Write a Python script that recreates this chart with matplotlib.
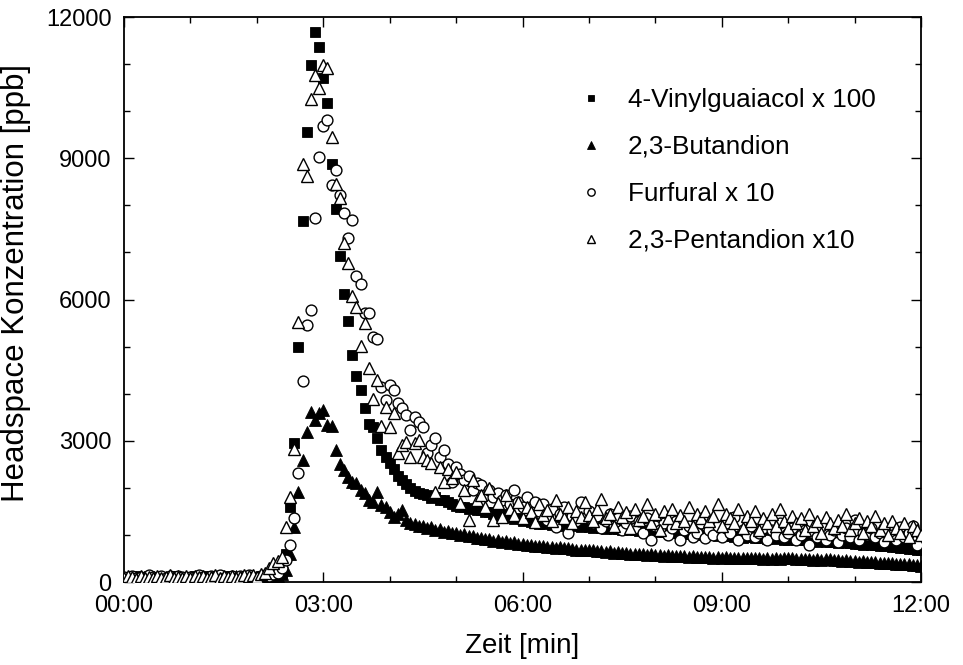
import numpy as np
import matplotlib
matplotlib.use("Agg")
import matplotlib.pyplot as plt
from matplotlib.ticker import MultipleLocator, FixedLocator, FixedFormatter

plt.rcParams['font.family'] = ['Liberation Sans', 'DejaVu Sans']

# sampling interval (minutes)
dt_min = 0.0625

series_labels = ['4-Vinylguaiacol x 100', '2,3-Butandion', 'Furfural x 10', '2,3-Pentandion x10']

vinyl = [
    90, 110, 80, 120, 100, 70, 130, 95, 85, 115,
    100, 75, 125, 90, 110, 80, 105, 130, 95, 85,
    120, 100, 70, 115, 90, 135, 105, 80, 110, 95,
    125, 100, 85, 130, 110, 140, 120, 150, 200, 600,
    1600, 2950, 5000, 7660, 9555, 10980, 11690, 11360, 10700, 10180,
    8870, 7920, 6930, 6110, 5550, 4820, 4375, 4078, 3690, 3350,
    3300, 3050, 2800, 2660, 2520, 2400, 2250, 2170, 2080, 2000,
    1930, 1880, 1870, 1840, 1790, 1800, 1740, 1750, 1690, 1660,
    1620, 1590, 1600, 1550, 1570, 1520, 1530, 1480, 1490, 1450,
    1430, 1440, 1380, 1390, 1340, 1350, 1300, 1310, 1270, 1260,
    1240, 1230, 1245, 1220, 1210, 1225, 1200, 1190, 1205, 1180,
    1170, 1185, 1160, 1150, 1170, 1140, 1135, 1150, 1120, 1130,
    1110, 1120, 1095, 1100, 1080, 1105, 1075, 1070, 1085, 1055,
    1060, 1070, 1045, 1040, 1055, 1025, 1030, 1010, 1035, 1005,
    1000, 1015, 990, 985, 1000, 970, 975, 960, 980, 945,
    950, 960, 940, 935, 950, 920, 925, 910, 930, 895,
    900, 910, 890, 885, 900, 870, 875, 860, 880, 845,
    850, 860, 835, 840, 820, 830, 805, 815, 790, 800,
    790, 780, 770, 760, 765, 740, 750, 725, 730, 710,
    700, 690, 680,
]

butandion = [
    70, 90, 60, 100, 80, 110, 75, 95, 65, 105,
    85, 60, 100, 120, 80, 95, 70, 110, 90, 75,
    100, 80, 115, 90, 70, 105, 95, 125, 85, 100,
    90, 110, 80, 100, 120, 95, 110, 120, 180, 255,
    600, 1175, 1918, 2590, 3190, 3617, 3440, 3600, 3650, 3335,
    3310, 2800, 2500, 2380, 2235, 2130, 2095, 1950, 1885, 1740,
    1700, 1918, 1635, 1600, 1480, 1390, 1450, 1530, 1320, 1250,
    1230, 1190, 1200, 1150, 1160, 1110, 1120, 1070, 1080, 1040,
    1050, 1000, 1010, 970, 980, 935, 945, 905, 915, 880,
    890, 850, 865, 830, 840, 800, 815, 785, 795, 770,
    760, 770, 745, 750, 730, 735, 715, 720, 700, 690,
    680, 690, 670, 675, 655, 660, 640, 650, 625, 630,
    610, 620, 600, 605, 590, 595, 575, 585, 565, 570,
    560, 570, 550, 555, 545, 550, 535, 545, 530, 535,
    530, 540, 520, 530, 515, 525, 510, 520, 505, 515,
    510, 515, 500, 510, 495, 505, 490, 505, 495, 500,
    500, 505, 485, 495, 480, 490, 475, 485, 470, 480,
    480, 470, 465, 455, 460, 445, 450, 435, 440, 425,
    420, 425, 410, 405, 400, 395, 390, 385, 380, 375,
    370, 360, 350,
]

furfural = [
    100, 70, 130, 90, 115, 80, 140, 100, 75, 125,
    95, 120, 85, 135, 100, 70, 115, 90, 140, 105,
    80, 125, 100, 145, 90, 110, 130, 85, 120, 100,
    140, 115, 90, 130, 150, 120, 160, 200, 300, 467,
    786, 1353, 2320, 4276, 5460, 5780, 7725, 9030, 9685, 9810,
    8430, 8750, 8220, 7845, 7300, 7690, 6500, 6330, 5720, 5707,
    5210, 5155, 4150, 3866, 4184, 4078, 3796, 3690, 3547, 3228,
    3511, 3405, 3300, 2733, 2910, 3052, 2660, 2800, 2500, 2130,
    2450, 2300, 2166, 2250, 1954, 2100, 2050, 1850, 1954, 1800,
    1900, 1750, 1850, 1650, 1954, 1700, 1600, 1800, 1550, 1700,
    1500, 1650, 1317, 1550, 1170, 1450, 1600, 1040, 1400, 1300,
    1700, 1350, 1500, 1250, 1400, 1150, 1300, 1450, 1200, 1350,
    1100, 1250, 1400, 1150, 1300, 1050, 1350, 890, 1200, 1100,
    1250, 1000, 1150, 1300, 890, 1100, 1200, 950, 1050, 1250,
    935, 1100, 1000, 1200, 950, 1150, 1050, 1380, 890, 1100,
    1000, 1200, 950, 1050, 1150, 900, 1100, 1000, 1250, 950,
    1050, 1150, 900, 1000, 1100, 785, 1050, 950, 1200, 900,
    1000, 1100, 850, 1000, 1150, 950, 1317, 900, 1050, 1000,
    1150, 950, 1050, 850, 1100, 1000, 900, 1170, 950, 1050,
    1200, 785, 1000,
]

pentandion = [
    80, 120, 100, 70, 130, 90, 110, 85, 125, 95,
    105, 140, 80, 115, 95, 130, 75, 120, 100, 135,
    90, 110, 140, 85, 125, 100, 130, 95, 115, 150,
    120, 140, 110, 160, 200, 290, 400, 450, 540, 1160,
    1810, 2820, 5530, 8880, 8620, 10250, 10770, 10490, 10980, 10910,
    9460, 8450, 8150, 7205, 6770, 6070, 5850, 5010, 5495, 4540,
    3880, 4290, 3310, 3725, 3300, 3583, 2733, 2910, 2980, 2660,
    2950, 3016, 2660, 2600, 2520, 1918, 2450, 2130, 2400, 2200,
    2343, 1672, 1954, 1317, 2166, 1742, 1850, 1600, 1990, 1317,
    1672, 1387, 1848, 1550, 1420, 1700, 1350, 1600, 1480, 1280,
    1650, 1420, 1520, 1300, 1750, 1450, 1350, 1600, 1250, 1500,
    1380, 1700, 1420, 1300, 1550, 1760, 1350, 1450, 1200, 1600,
    1380, 1480, 1150, 1550, 1320, 1400, 1650, 1250, 1450, 1100,
    1500, 1350, 1550, 1250, 1420, 1300, 1600, 1180, 1450, 1350,
    1500, 1300, 1400, 1650, 1200, 1450, 1350, 1250, 1550, 1150,
    1400, 1300, 1500, 1100, 1350, 1250, 1450, 1200, 1550, 1300,
    1150, 1400, 1250, 1350, 1100, 1450, 1200, 1300, 1050, 1380,
    1250, 1150, 1320, 1200, 1450, 1100, 1250, 1350, 1050, 1300,
    1200, 1400, 1100, 1250, 1000, 1300, 1150, 1050, 1250, 950,
    1200, 1100, 1000,
]

x_tick_values = [0, 3, 6, 9, 12]
x_tick_labels = ['00:00', '03:00', '06:00', '09:00', '12:00']
y_tick_values = [0, 3000, 6000, 9000, 12000]
x_label = 'Zeit [min]'
y_label = 'Headspace Konzentration [ppb]'


def times(vals):
    return np.arange(len(vals)) * dt_min


fig = plt.figure(figsize=(9.63, 6.65), dpi=100)
ax = fig.add_axes([0.1288, 0.1248, 0.8276, 0.8496])

ax.plot(times(vinyl), vinyl, ls='none', marker='s', ms=7.2, mfc='black', mec='black',
        mew=0.6, label=series_labels[0], zorder=3)
ax.plot(times(butandion), butandion, ls='none', marker='^', ms=8.3, mfc='black', mec='black',
        mew=0.6, label=series_labels[1], zorder=3)
ax.plot(times(furfural), furfural, ls='none', marker='o', ms=7.8, mfc='white', mec='black',
        mew=1.0, label=series_labels[2], zorder=4)
ax.plot(times(pentandion), pentandion, ls='none', marker='^', ms=8.3, mfc='white', mec='black',
        mew=1.0, label=series_labels[3], zorder=5)

ax.set_xlim(0, 12)
ax.set_ylim(0, 12000)
ax.xaxis.set_major_locator(FixedLocator(x_tick_values))
ax.xaxis.set_major_formatter(FixedFormatter(x_tick_labels))
ax.xaxis.set_minor_locator(MultipleLocator(1))
ax.yaxis.set_major_locator(FixedLocator(y_tick_values))
ax.yaxis.set_minor_locator(MultipleLocator(1000))

ax.tick_params(which='both', direction='in', top=True, right=True, width=1.0,
               labelsize=17, color='black')
ax.tick_params(which='major', length=7, pad=9)
ax.tick_params(which='minor', length=4)
for s in ax.spines.values():
    s.set_linewidth(1.3)

ax.set_xlabel(x_label, fontsize=20, labelpad=12)
ax.set_ylabel(y_label, fontsize=22.5)
ax.yaxis.set_label_coords(-0.117, 0.53)

leg = ax.legend(loc='upper left', bbox_to_anchor=(0.56, 0.893), frameon=False,
                fontsize=18.8, markerscale=0.68, handlelength=0.75, handletextpad=1.05,
                labelspacing=0.88, borderaxespad=0)

fig.savefig('out.png', dpi=100)
